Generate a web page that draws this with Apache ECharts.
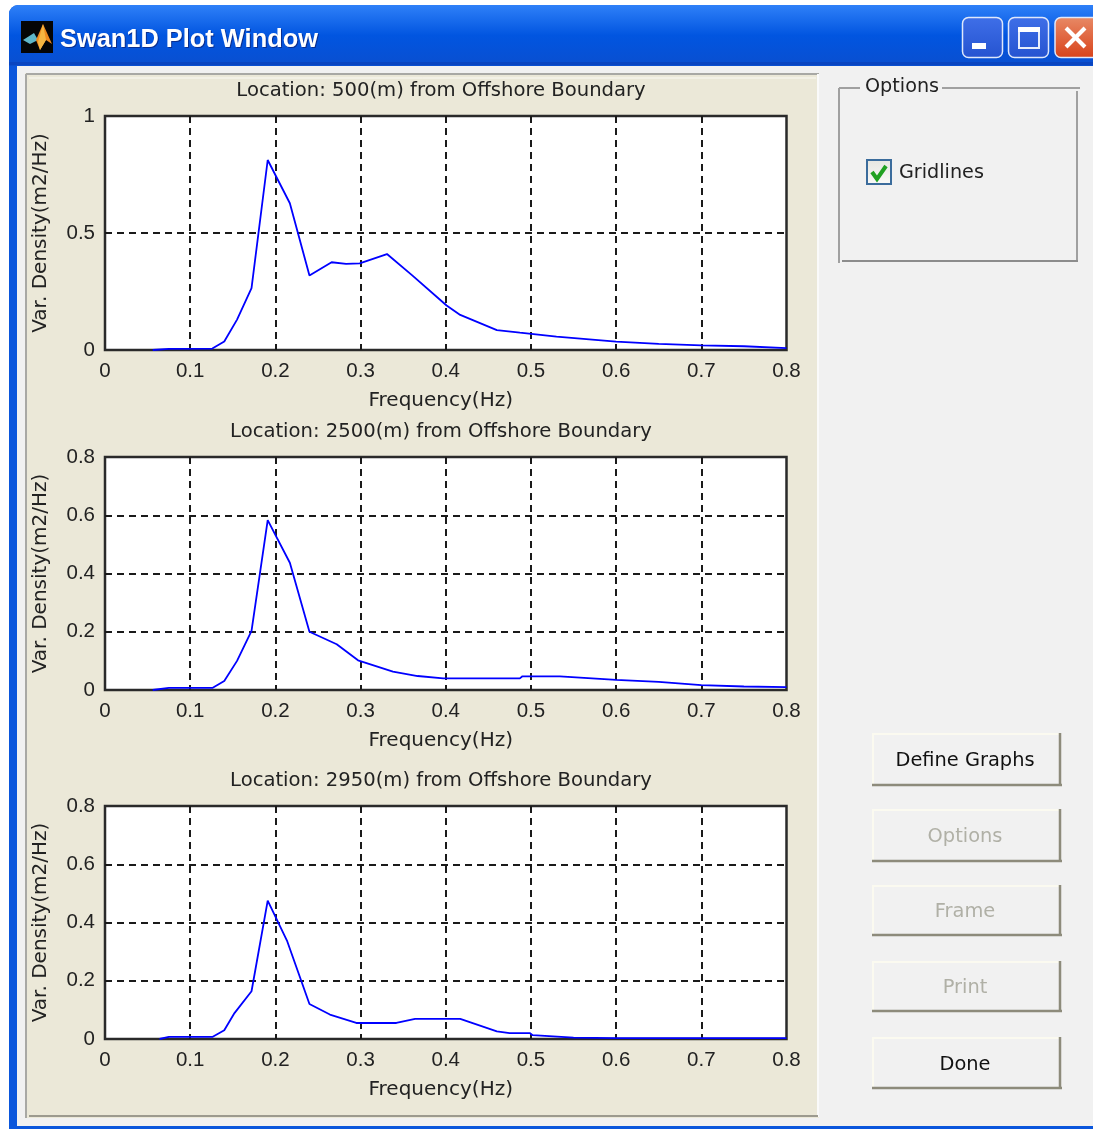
<!DOCTYPE html>
<html><head><meta charset="utf-8">
<style>html,body{margin:0;padding:0;background:#fff;overflow:hidden}#c{width:1093px;height:1129px;filter:blur(0.5px)}</style>
<script src="https://cdn.jsdelivr.net/npm/echarts@6/dist/echarts.min.js"></script>
</head><body><div id="c"></div>
<script>
const xTicks = [0,0.1,0.2,0.3,0.4,0.5,0.6,0.7,0.8];
const titles = ['Location: 500(m) from Offshore Boundary','Location: 2500(m) from Offshore Boundary','Location: 2950(m) from Offshore Boundary'];
const xName = 'Frequency(Hz)';
const yName = 'Var. Density(m2/Hz)';
const yMaxes = [1,0.8,0.8];
const yIntervals = [0.5,0.2,0.2];
const freq1 = [0.056,0.075,0.126,0.140,0.155,0.172,0.191,0.217,0.240,0.266,0.283,0.299,0.331,0.361,0.401,0.417,0.460,0.487,0.530,0.600,0.650,0.700,0.750,0.800];
const vals1 = [0,0.005,0.006,0.036,0.13,0.264,0.812,0.627,0.318,0.375,0.368,0.37,0.41,0.318,0.19,0.15,0.085,0.074,0.057,0.036,0.026,0.02,0.016,0.008];
const freq2 = [0.056,0.075,0.126,0.140,0.155,0.172,0.191,0.217,0.240,0.272,0.297,0.338,0.367,0.397,0.487,0.490,0.534,0.600,0.650,0.700,0.750,0.800];
const vals2 = [0,0.007,0.007,0.031,0.10,0.203,0.583,0.437,0.2,0.157,0.102,0.063,0.048,0.04,0.04,0.047,0.047,0.035,0.028,0.017,0.012,0.01];
const freq3 = [0.064,0.075,0.126,0.140,0.152,0.172,0.191,0.214,0.240,0.264,0.295,0.342,0.364,0.417,0.460,0.475,0.499,0.502,0.550,0.600,0.800];
const vals3 = [0,0.007,0.007,0.03,0.089,0.164,0.475,0.335,0.12,0.084,0.055,0.055,0.069,0.069,0.026,0.02,0.02,0.013,0.005,0.003,0.003];

const FONT = '"Liberation Sans", Arial, sans-serif';
const FONT2 = '"DejaVu Sans", sans-serif';
const TXT = '#222';
const grids = [[116,350],[457,690],[806,1039]];
const series = [[freq1,vals1],[freq2,vals2],[freq3,vals3]];

function R(x,y,w,h,fill,extra){return {type:'rect',shape:{x,y,width:w,height:h,r:(extra&&extra.r)||0},style:{fill},silent:true,z:(extra&&extra.z)||-10};}
function V(c1,c2,c3){return {type:'linear',x:0,y:0,x2:0,y2:1,colorStops:c3?[{offset:0,color:c1},{offset:.5,color:c2},{offset:1,color:c3}]:[{offset:0,color:c1},{offset:1,color:c2}]};}
function T(x,y,text,color,size,align,weight,font){return {type:'text',x,y,silent:true,z:-5,style:{text,fill:color,font:(weight||'normal')+' '+size+'px '+(font||FONT2),textAlign:align||'left',textVerticalAlign:'middle'}};}
function L(x1,y1,x2,y2,c,w){return {type:'line',shape:{x1,y1,x2,y2},style:{stroke:c,lineWidth:w||1},silent:true,z:-8};}
function P(points,fill){return {type:'polygon',shape:{points},style:{fill},silent:true,z:-6};}

const chrome = [];
// window frame
chrome.push(R(9,5,1084,1124,'#0a56dc',{r:[9,0,0,0]}));
chrome.push(R(17,65,1076,1061,'#f1f1f1',{z:-9.5}));
// title bar
chrome.push(R(9,5,1084,61,V('#2f80f8','#0155e0','#0a4fd0'),{r:[9,0,0,0],z:-9.5}));
chrome.push(R(9,62,1084,3,'#0a45c0',{z:-9.4}));
// logo
chrome.push(R(21,21,32,32,'#050505',{z:-7}));
chrome.push(P([[23,40],[34,33],[38,40],[30,44]],'#5fb6c8'));
chrome.push(P([[36,40],[43,24],[52,44],[46,40],[40,50]],'#ee8a1e'));
chrome.push(P([[43,24],[46,40],[40,50],[38,42]],'#f5b642'));
// title text
chrome.push(T(61,41,'Swan1D Plot Window','#0a2f90',25.4,'left','bold',FONT));
chrome.push(T(60,40,'Swan1D Plot Window','#ffffff',25.4,'left','bold',FONT));
// title buttons
function tbtn(x,w,c1,c2){chrome.push({type:'rect',shape:{x,y:17.5,width:w,height:40,r:6},style:{fill:V(c1,c2),stroke:'#dfe8fb',lineWidth:1.5},silent:true,z:-9});}
tbtn(962.5,40,'#3f6fe8','#2553d0');
tbtn(1008.5,40,'#3f6fe8','#2553d0');
tbtn(1055,44,'#e88a66','#d8421a');
chrome.push(R(972,43,14,6,'#ffffff',{z:-6}));
chrome.push({type:'rect',shape:{x:1019,y:29,width:20,height:19},style:{fill:null,stroke:'#e8eefc',lineWidth:2},silent:true,z:-7});
chrome.push(R(1018,27,22,5,'#ffffff',{z:-6}));
chrome.push({type:'line',shape:{x1:1066,y1:28,x2:1085,y2:47},style:{stroke:'#fff',lineWidth:4},silent:true,z:-6});
chrome.push({type:'line',shape:{x1:1085,y1:28,x2:1066,y2:47},style:{stroke:'#fff',lineWidth:4},silent:true,z:-6});
// plot panel
chrome.push(R(25,73,794,1045,'#ebe8d8',{z:-9}));
chrome.push(L(26,74,819,74,'#a8a8a4',2));
chrome.push(L(26,74,26,1118,'#a8a8a4',2));
chrome.push(L(818,74,818,1117,'#fafafa',2));
chrome.push(L(29,1116,818,1116,'#9c9a8e',2));
chrome.push(L(29,78,816,78,'#fbfaf4',1));
// options frame
chrome.push(L(839,88,860,88,'#a0a0a0',2));
chrome.push(L(942,88,1080,88,'#a0a0a0',2));
chrome.push(L(839,88,839,263,'#a0a0a0',2));
chrome.push(L(1077,91,1077,261,'#a0a0a0',2));
chrome.push(L(842,261,1078,261,'#8c8c8c',2));
chrome.push(T(865,87,'Options',TXT,19.2));
// checkbox
chrome.push({type:'rect',shape:{x:867,y:160,width:24,height:24},style:{fill:V('#e6e6e0','#fafaf8'),stroke:'#3b6c9c',lineWidth:2},silent:true,z:-7});
chrome.push({type:'polyline',shape:{points:[[872,172],[877,179],[886,166]]},style:{stroke:'#21a121',lineWidth:4,fill:null},silent:true,z:-6});
chrome.push(T(899,173.5,'Gridlines',TXT,19.2));
// buttons
function btn(y1,y2,label,color){
  chrome.push(R(872,y1,190,y2-y1,'#f1f1f1',{z:-9}));
  chrome.push(L(872,y1+1,1061,y1+1,'#fbfaf0',2));
  chrome.push(L(873,y1,873,y2,'#fbfaf0',2));
  chrome.push(L(1060,y1,1060,y2,'#8d8b7b',2.5));
  chrome.push(L(872,y2-1,1062,y2-1,'#8d8b7b',2.5));
  chrome.push(T(965,(y1+y2)/2+1.5,label,color,19.4,'center'));
}
btn(733,786,'Define Graphs','#111');
btn(809,862,'Options','#b0b0a6');
btn(885,936,'Frame','#b0b0a6');
btn(961,1012,'Print','#b0b0a6');
btn(1037,1089,'Done','#111');

const gridLine = {show:true,showMinLine:false,showMaxLine:false,lineStyle:{color:'#1a1a1a',type:[7,5],width:2}};
const option = {
  animation:false,
  backgroundColor:'#fff',
  graphic:{elements:chrome},
  title:titles.map((t,i)=>({text:t,left:441,top:grids[i][0]-37,textAlign:'center',padding:0,
    textStyle:{fontFamily:FONT2,fontSize:19.6,fontWeight:'normal',color:TXT,lineHeight:24}})),
  grid:grids.map(g=>({left:105,width:681.5,top:g[0],height:g[1]-g[0],show:true,backgroundColor:'#fff',borderColor:'#2a2a2a',borderWidth:2.5})),
  xAxis:grids.map((g,i)=>({gridIndex:i,type:'value',min:0,max:0.8,interval:0.1,
    name:xName,nameLocation:'middle',nameGap:41,nameTextStyle:{fontFamily:FONT2,fontSize:20,color:TXT,padding:[0,10,0,0]},
    axisLine:{show:false},axisTick:{show:false},
    axisLabel:{fontFamily:FONT,fontSize:20.5,color:TXT,margin:11,formatter:v=>String(+v.toFixed(1)),showMinLabel:true,showMaxLabel:true,hideOverlap:false},
    splitLine:gridLine})),
  yAxis:grids.map((g,i)=>({gridIndex:i,type:'value',min:0,max:yMaxes[i],interval:yIntervals[i],
    name:yName,nameLocation:'middle',nameGap:54,nameRotate:90,nameTextStyle:{fontFamily:FONT2,fontSize:20,color:TXT},
    axisLine:{show:false},axisTick:{show:false},
    axisLabel:{fontFamily:FONT,fontSize:20.5,color:TXT,margin:10,formatter:v=>String(+v.toFixed(1))},
    splitLine:gridLine})),
  series:series.map((s,i)=>({type:'line',xAxisIndex:i,yAxisIndex:i,showSymbol:false,symbol:'none',z:5,
    lineStyle:{color:'#0000ff',width:1.8},
    data:s[0].map((f,k)=>[f,s[1][k]])}))
};
const chart = echarts.init(document.getElementById('c'),null,{renderer:'canvas'});
chart.setOption(option);
</script></body></html>
